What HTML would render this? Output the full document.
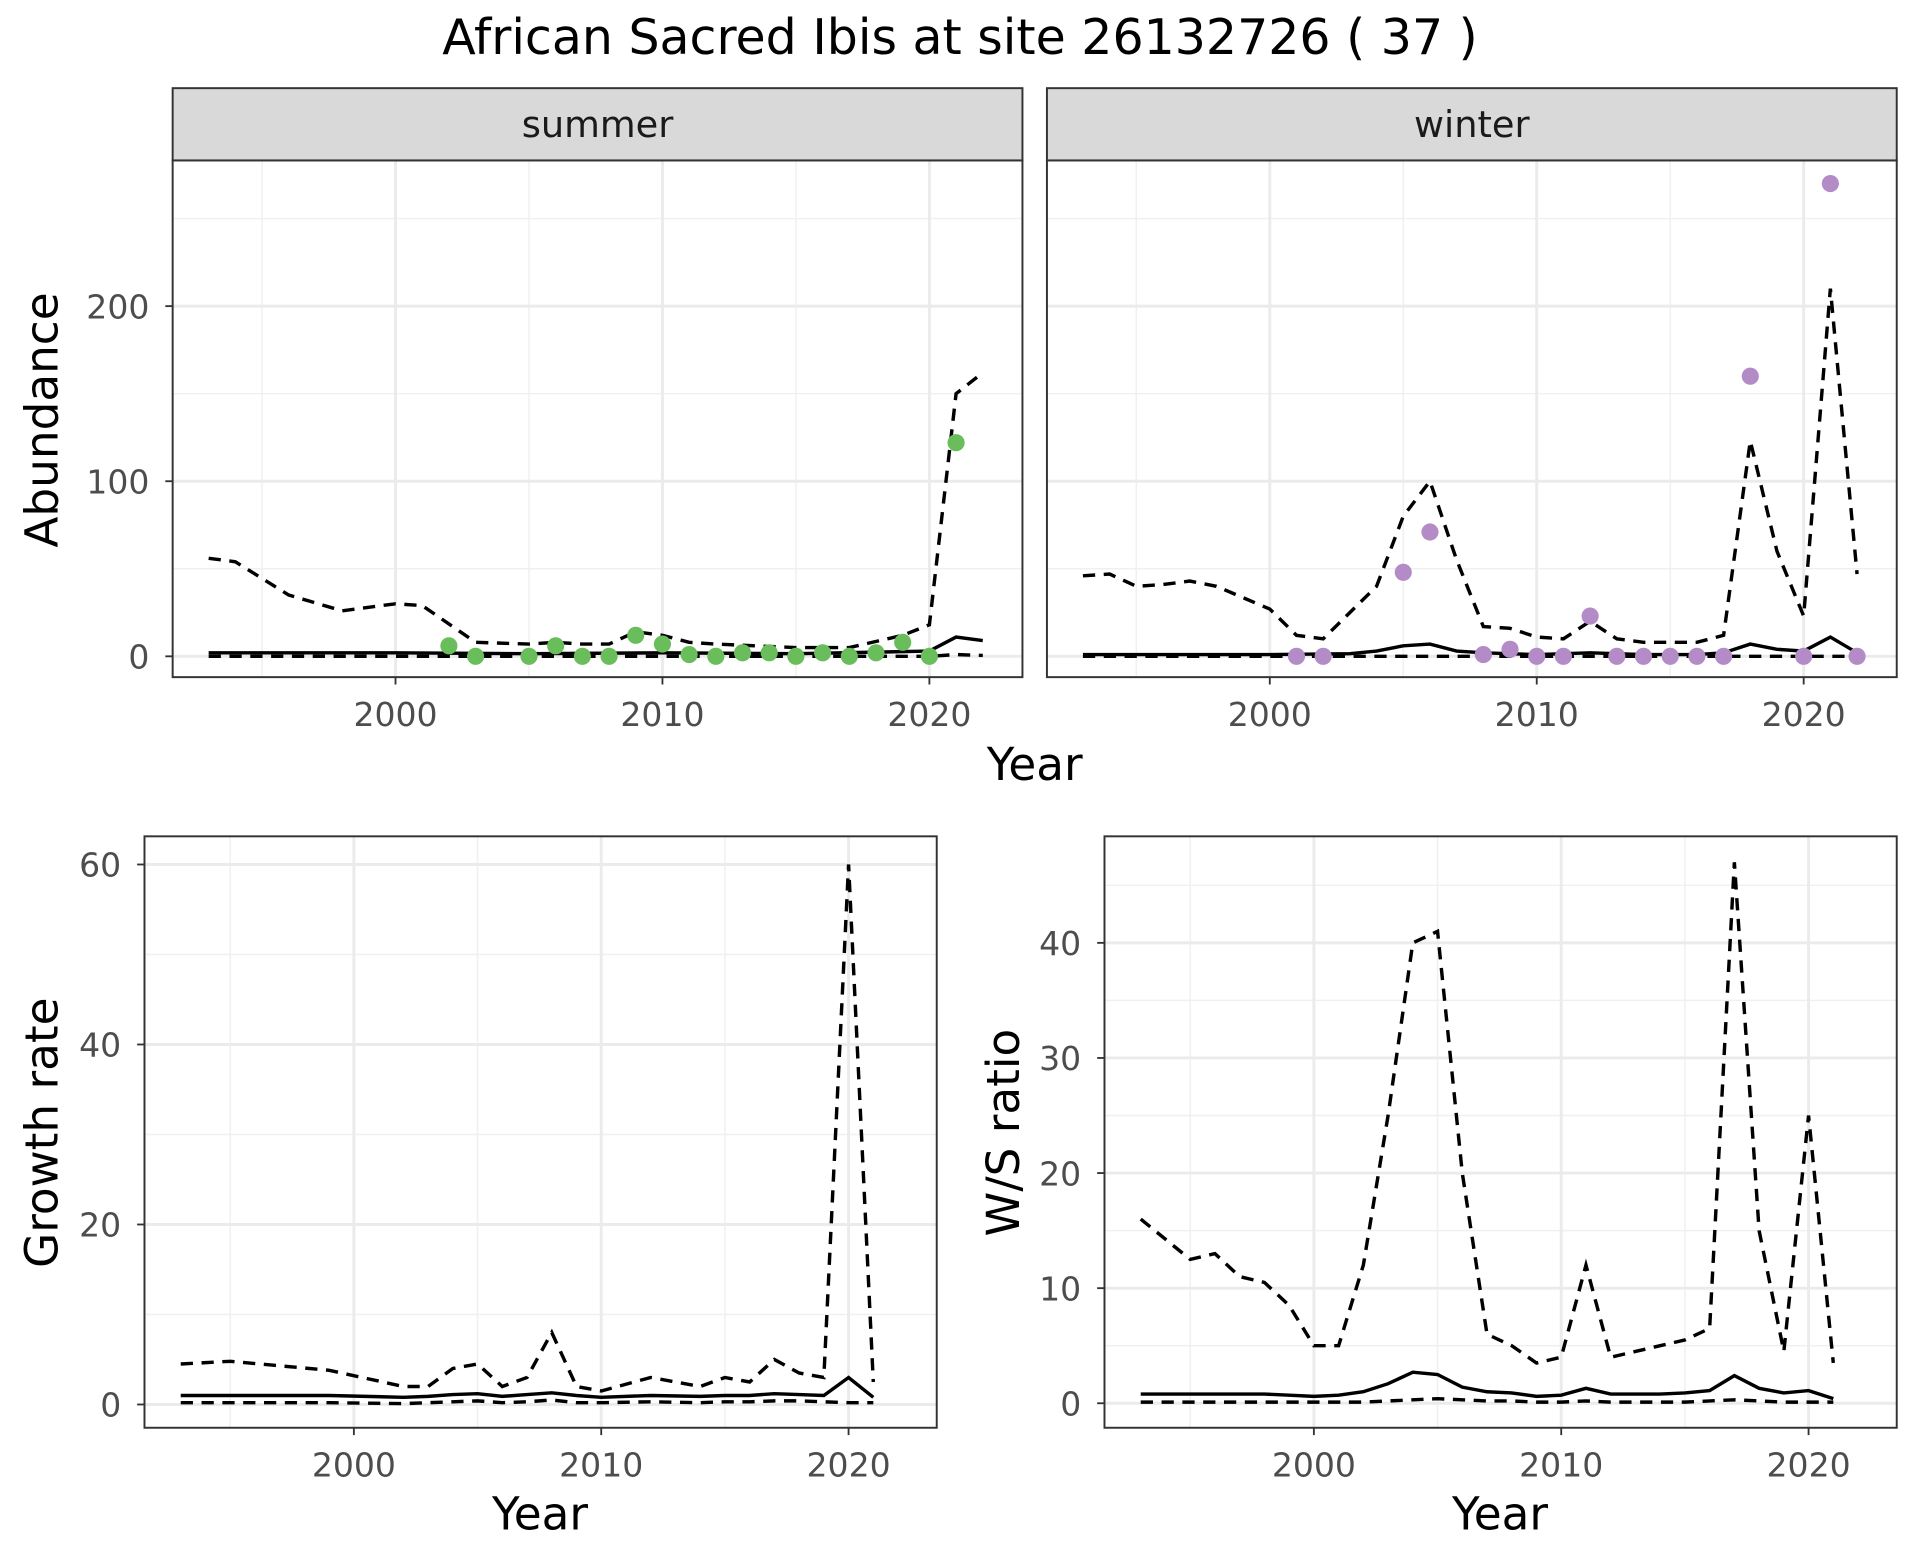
<!DOCTYPE html>
<html><head><meta charset="utf-8"><style>
html,body{margin:0;padding:0;background:#fff;}
svg{display:block;font-family:"DejaVu Sans","Liberation Sans",sans-serif;}
</style></head><body>
<svg id="chart" width="1920" height="1560" viewBox="0 0 1568 1274" xmlns="http://www.w3.org/2000/svg">
<text x="784" y="44" text-anchor="middle" font-size="40" fill="#000">African Sacred Ibis at site 26132726 ( 37 )</text>
<g id="root"></g>
</svg>
<script>
// ---- data ----
const sumPtYears=[2002,2003,2005,2006,2007,2008,2009,2010,2011,2012,2013,2014,2015,2016,2017,2018,2019,2020,2021];
const sumPtVals=[6,0,0,6,0,0,12,7,1,0,2,2,0,2,0,2,8,0,122];
const sumUpYears=[1993,1994,1996,1998,2000,2001,2003,2005,2006,2007,2008,2009,2010,2011,2012,2015,2017,2019,2020,2021,2022];
const sumUpVals=[56,54,35,26,30,29,8,7,8,7,7,14,12,8,7,5,5,12,18,150,162];
const sumMidYears=[1993,2000,2005,2010,2015,2020,2021,2022];
const sumMidVals=[2,2,1.5,2,1.5,3,11,9];
const sumLoYears=[1993,2020,2021,2022];
const sumLoVals=[0,0,1,0.5];
const winPtYears=[2001,2002,2005,2006,2008,2009,2010,2011,2012,2013,2014,2015,2016,2017,2018,2020,2021,2022];
const winPtVals=[0,0,48,71,1,4,0,0,23,0,0,0,0,0,160,0,270,0];
const winUpYears=[1993,1994,1995,1996,1997,1998,2000,2001,2002,2004,2005,2006,2007,2008,2009,2010,2011,2012,2013,2014,2016,2017,2018,2019,2020,2021,2022];
const winUpVals=[46,47,40,41,43,40,27,12,10,40,80,100,55,17,16,11,10,20,10,8,8,12,123,60,23,210,47];
const winMidYears=[1993,2000,2003,2004,2005,2006,2007,2008,2010,2012,2014,2016,2017,2018,2019,2020,2021,2022];
const winMidVals=[1,1,1.5,3,6,7,3,2,1,2,1,1,2,7,4,3,11,2];
const winLoYears=[1993,2022];
const winLoVals=[0,0];
const grYears=[1993,1995,1997,1999,2002,2003,2004,2005,2006,2007,2008,2009,2010,2012,2014,2015,2016,2017,2018,2019,2020,2021];
const grUp=[4.5,4.8,4.3,3.8,2,2,4,4.5,2,3,8,2,1.5,3,2,3,2.5,5,3.5,3,60,2.5];
const grMid=[1,1,1,1,0.8,0.9,1.1,1.2,0.9,1.1,1.3,1,0.8,1,0.9,1,1,1.2,1.1,1,3,0.8];
const grLo=[0.2,0.2,0.2,0.2,0.1,0.2,0.3,0.4,0.2,0.3,0.5,0.2,0.2,0.3,0.2,0.3,0.3,0.4,0.4,0.3,0.2,0.2];
const wsYears=[1993,1995,1996,1997,1998,1999,2000,2001,2002,2003,2004,2005,2006,2007,2008,2009,2010,2011,2012,2013,2014,2015,2016,2017,2018,2019,2020,2021];
const wsUp=[16,12.5,13,11,10.5,8.5,5,5,12,25,40,41,20,6,5,3.5,4,12,4,4.5,5,5.5,6.5,47,15,4.5,25,3.5];
const wsMid=[0.8,0.8,0.8,0.8,0.8,0.7,0.6,0.7,1,1.7,2.7,2.5,1.4,1,0.9,0.6,0.7,1.3,0.8,0.8,0.8,0.9,1.1,2.4,1.3,0.9,1.1,0.4];
const wsLo=[0.1,0.1,0.1,0.1,0.1,0.1,0.1,0.1,0.1,0.2,0.3,0.4,0.3,0.2,0.2,0.1,0.1,0.2,0.1,0.1,0.1,0.1,0.2,0.3,0.2,0.1,0.1,0.1];
const xTicks=[2000,2010,2020];
const abTicks=[0,100,200];
const grTicks=[0,20,40,60];
const wsTicks=[0,10,20,30,40];
// ---- drawing ----
const NS="http://www.w3.org/2000/svg";
const root=document.getElementById('root');
function mk(tag,attrs,parent){const e=document.createElementNS(NS,tag);for(const k in attrs)e.setAttribute(k,attrs[k]);(parent||root).appendChild(e);return e;}
function scale(d0,d1,r0,r1){return v=>r0+(v-d0)*(r1-r0)/(d1-d0);}
function panel(name,x0,x1,y0,y1,sx,sy,yTicks,yMinor,showY){
  const g=mk('g',{});
  
  
  mk('rect',{x:x0,y:y0,width:x1-x0,height:y1-y0,fill:'#fff'},g);
  [1995,2005,2015].forEach(v=>{const l=mk('line',{x1:sx(v),x2:sx(v),y1:y0,y2:y1,stroke:'#f0f0f0','stroke-width':1.2},g);});
  yMinor.forEach(v=>{const y=sy(v);if(y>y0&&y<y1){const l=mk('line',{x1:x0,x2:x1,y1:y,y2:y,stroke:'#f0f0f0','stroke-width':1.2},g);}});
  xTicks.forEach(v=>{const l=mk('line',{x1:sx(v),x2:sx(v),y1:y0,y2:y1,stroke:'#ebebeb','stroke-width':2.4},g);});
  yTicks.forEach(v=>{const l=mk('line',{x1:x0,x2:x1,y1:sy(v),y2:sy(v),stroke:'#ebebeb','stroke-width':2.4},g);});
  xTicks.forEach(v=>{mk('line',{x1:sx(v),x2:sx(v),y1:y1,y2:y1+6,stroke:'#333','stroke-width':1.5},g);
    const t=mk('text',{x:sx(v),y:y1+40,'text-anchor':'middle','font-size':27,fill:'#4d4d4d'},g);t.textContent=v;
    });
  if(showY) yTicks.forEach(v=>{mk('line',{x1:x0-6,x2:x0,y1:sy(v),y2:sy(v),stroke:'#333','stroke-width':1.5},g);
    const t=mk('text',{x:x0-19,y:sy(v)+10,'text-anchor':'end','font-size':27,fill:'#4d4d4d'},g);t.textContent=v;
    });
  return g;
}
function line(g,name,xs,ys,sx,sy,dash){
  const p=mk('polyline',{points:xs.map((x,i)=>sx(x)+','+sy(ys[i])).join(' '),fill:'none',stroke:'#000','stroke-width':2.8,'stroke-dasharray':dash?'10,7':'none'},g);
  
}
function pts(g,name,xs,ys,sx,sy,col){
  xs.forEach((x,i)=>{const c=mk('circle',{cx:sx(x),cy:sy(ys[i]),r:7,fill:col},g);
    });
}
function frame(g,x0,x1,y0,y1){mk('rect',{x:x0,y:y0,width:x1-x0,height:y1-y0,fill:'none',stroke:'#333','stroke-width':1.6},g);}
function strip(name,label,x0,x1){
  const r=mk('rect',{x:x0,y:72,width:x1-x0,height:59,fill:'#d9d9d9',stroke:'#333','stroke-width':1.6});
  
  const t=mk('text',{x:(x0+x1)/2,y:112,'text-anchor':'middle','font-size':30,fill:'#1a1a1a'});t.textContent=label;
  
}
function label(name,txt,x,y,rot){
  const t=mk('text',{x:x,y:y,'text-anchor':'middle','font-size':37,fill:'#000',transform:rot?`rotate(-90 ${x} ${y})`:''});
  t.textContent=txt;
}
// top panels
const syA=scale(0,100,536,393);
const sxS=scale(2000,2010,323,541), sxW=scale(2000,2010,1037,1255);
const abMinor=[50,150,250];
let g=panel('summer-panel',141,835,131,553,sxS,syA,abTicks,abMinor,true);
line(g,'summer-upper-line',sumUpYears,sumUpVals,sxS,syA,true);
line(g,'summer-lower-line',sumLoYears,sumLoVals,sxS,syA,true);
line(g,'summer-trend-line',sumMidYears,sumMidVals,sxS,syA,false);
pts(g,'summer-point',sumPtYears,sumPtVals,sxS,syA,'#6abd5b');
frame(g,141,835,131,553);
g=panel('winter-panel',855,1549,131,553,sxW,syA,abTicks,abMinor,false);
line(g,'winter-upper-line',winUpYears,winUpVals,sxW,syA,true);
line(g,'winter-lower-line',winLoYears,winLoVals,sxW,syA,true);
line(g,'winter-trend-line',winMidYears,winMidVals,sxW,syA,false);
pts(g,'winter-point',winPtYears,winPtVals,sxW,syA,'#b38bc6');
frame(g,855,1549,131,553);
strip('summer-strip','summer',141,835);
strip('winter-strip','winter',855,1549);
label('y-axis-title-abundance','Abundance',47,343,true);
label('x-axis-title-top','Year',845,637,false);
// growth rate
const sxG=scale(2000,2010,289,491), syG=scale(0,20,1147,1000);
g=panel('growth-panel',118,765,683,1166,sxG,syG,grTicks,[10,30,50],true);
line(g,'growth-upper-line',grYears,grUp,sxG,syG,true);
line(g,'growth-lower-line',grYears,grLo,sxG,syG,true);
line(g,'growth-trend-line',grYears,grMid,sxG,syG,false);
frame(g,118,765,683,1166);
label('y-axis-title-growth','Growth rate',47,925,true);
label('x-axis-title-growth','Year',441,1249,false);
// W/S ratio
const sxR=scale(2000,2010,1073,1275), syR=scale(0,10,1146,1052);
g=panel('ws-panel',902,1549,683,1166,sxR,syR,wsTicks,[5,15,25,35,45],true);
line(g,'ws-upper-line',wsYears,wsUp,sxR,syR,true);
line(g,'ws-lower-line',wsYears,wsLo,sxR,syR,true);
line(g,'ws-trend-line',wsYears,wsMid,sxR,syR,false);
frame(g,902,1549,683,1166);
label('y-axis-title-ws','W/S ratio',832,925,true);
label('x-axis-title-ws','Year',1225,1249,false);
</script>
</body></html>
